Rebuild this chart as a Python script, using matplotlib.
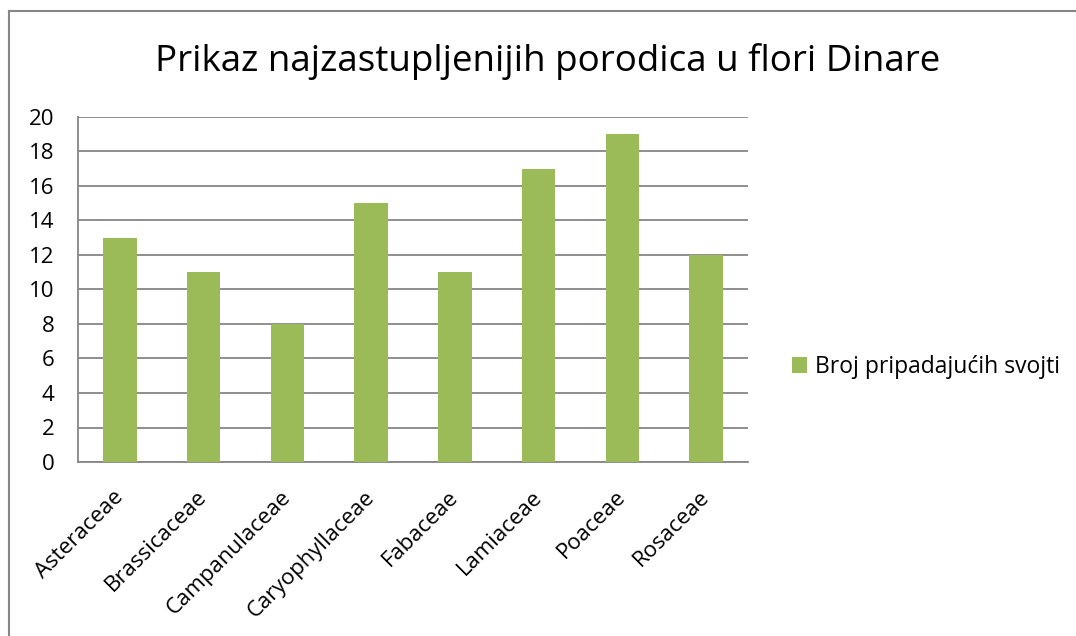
import matplotlib
matplotlib.use("Agg")
import matplotlib.pyplot as plt
from matplotlib.lines import Line2D
import numpy as np

plt.rcParams['font.family'] = ['Open Sans', 'DejaVu Sans']

families = ['Asteraceae', 'Brassicaceae', 'Campanulaceae', 'Caryophyllaceae',
            'Fabaceae', 'Lamiaceae', 'Poaceae', 'Rosaceae']
counts = [13, 11, 8, 15, 11, 17, 19, 12]
series_name = 'Broj pripadajućih svojti'
title = 'Prikaz najzastupljenijih porodica u flori Dinare'

green = '#9BBB59'
grey = '#868686'

fig = plt.figure(figsize=(10.76, 6.36), dpi=100)
ax = fig.add_axes([78 / 1076, 1 - 462 / 636, 670 / 1076, 345 / 636])

x = np.arange(len(families))
bars = ax.bar(x, counts, width=0.4, color=green, zorder=3, label=series_name)

ax.set_xlim(-0.5, len(families) - 0.5)
ax.set_ylim(0, 20)
ax.set_yticks(range(0, 21, 2))
ax.yaxis.grid(True, color=grey, linewidth=1.3, zorder=0)

for side in ['top', 'right']:
    ax.spines[side].set_visible(False)
for side in ['left', 'bottom']:
    ax.spines[side].set_color(grey)
    ax.spines[side].set_linewidth(1.3)

ax.set_xticks(x)
ax.set_xticklabels(families, rotation=45, ha='right', va='center',
                   rotation_mode='anchor')
ax.tick_params(axis='x', length=0, pad=23, labelsize=16)
ax.tick_params(axis='y', length=0, pad=17, labelsize=16)

fig.text(548 / 1076, 1 - 62 / 636, title, ha='center', va='center', fontsize=26.5)

# legend on the right
fig.legend(handles=[bars], labels=[series_name], loc='center left',
           bbox_to_anchor=(771 / 1076, 1 - 367 / 636), frameon=False,
           handlelength=0.65, handleheight=0.65, handletextpad=0.35,
           fontsize=16.5)

# chart area border (left and top visible)
fig.add_artist(Line2D([9 / 1076, 9 / 1076], [0, 1 - 11 / 636],
                      transform=fig.transFigure, color=grey, linewidth=1.5))
fig.add_artist(Line2D([9 / 1076, 1], [1 - 11 / 636, 1 - 11 / 636],
                      transform=fig.transFigure, color=grey, linewidth=1.5))

fig.savefig('out.png', dpi=100)
